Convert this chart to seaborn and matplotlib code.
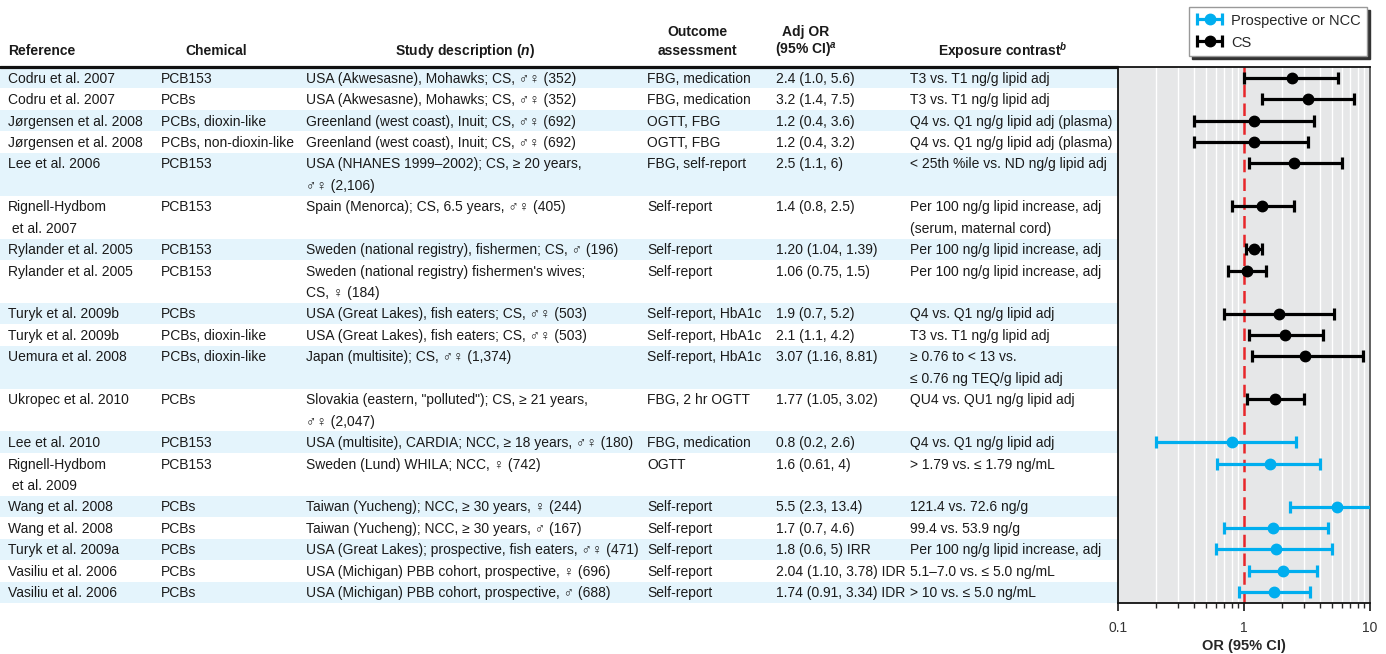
import numpy as np
import pandas as pd
import matplotlib
matplotlib.use("Agg")
import matplotlib.pyplot as plt
import seaborn as sns
from matplotlib.legend_handler import HandlerErrorbar

# Table columns (one entry per study row, "\n" marks a wrapped second line)
references = [
    "Codru et al. 2007", "Codru et al. 2007", "Jørgensen et al. 2008", "Jørgensen et al. 2008",
    "Lee et al. 2006", "Rignell-Hydbom\n et al. 2007", "Rylander et al. 2005", "Rylander et al. 2005",
    "Turyk et al. 2009b", "Turyk et al. 2009b", "Uemura et al. 2008", "Ukropec et al. 2010",
    "Lee et al. 2010", "Rignell-Hydbom\n et al. 2009", "Wang et al. 2008", "Wang et al. 2008",
    "Turyk et al. 2009a", "Vasiliu et al. 2006", "Vasiliu et al. 2006",
]
chemicals = [
    "PCB153", "PCBs", "PCBs, dioxin-like", "PCBs, non-dioxin-like", "PCB153", "PCB153", "PCB153",
    "PCB153", "PCBs", "PCBs, dioxin-like", "PCBs, dioxin-like", "PCBs", "PCB153", "PCB153",
    "PCBs", "PCBs", "PCBs", "PCBs", "PCBs",
]
studies = [
    "USA (Akwesasne), Mohawks; CS, ♂♀ (352)",
    "USA (Akwesasne), Mohawks; CS, ♂♀ (352)",
    "Greenland (west coast), Inuit; CS, ♂♀ (692)",
    "Greenland (west coast), Inuit; CS, ♂♀ (692)",
    "USA (NHANES 1999–2002); CS, ≥ 20 years,\n♂♀ (2,106)",
    "Spain (Menorca); CS, 6.5 years, ♂♀ (405)",
    "Sweden (national registry), fishermen; CS, ♂ (196)",
    "Sweden (national registry) fishermen's wives;\nCS, ♀ (184)",
    "USA (Great Lakes), fish eaters; CS, ♂♀ (503)",
    "USA (Great Lakes), fish eaters; CS, ♂♀ (503)",
    "Japan (multisite); CS, ♂♀ (1,374)",
    "Slovakia (eastern, \"polluted\"); CS, ≥ 21 years,\n♂♀ (2,047)",
    "USA (multisite), CARDIA; NCC, ≥ 18 years, ♂♀ (180)",
    "Sweden (Lund) WHILA; NCC, ♀ (742)",
    "Taiwan (Yucheng); NCC, ≥ 30 years, ♀ (244)",
    "Taiwan (Yucheng); NCC, ≥ 30 years, ♂ (167)",
    "USA (Great Lakes); prospective, fish eaters, ♂♀ (471)",
    "USA (Michigan) PBB cohort, prospective, ♀ (696)",
    "USA (Michigan) PBB cohort, prospective, ♂ (688)",
]
outcomes = [
    "FBG, medication", "FBG, medication", "OGTT, FBG", "OGTT, FBG", "FBG, self-report",
    "Self-report", "Self-report", "Self-report", "Self-report, HbA1c", "Self-report, HbA1c",
    "Self-report, HbA1c", "FBG, 2 hr OGTT", "FBG, medication", "OGTT", "Self-report",
    "Self-report", "Self-report", "Self-report", "Self-report",
]
or_labels = [
    "2.4 (1.0, 5.6)", "3.2 (1.4, 7.5)", "1.2 (0.4, 3.6)", "1.2 (0.4, 3.2)", "2.5 (1.1, 6)",
    "1.4 (0.8, 2.5)", "1.20 (1.04, 1.39)", "1.06 (0.75, 1.5)", "1.9 (0.7, 5.2)", "2.1 (1.1, 4.2)",
    "3.07 (1.16, 8.81)", "1.77 (1.05, 3.02)", "0.8 (0.2, 2.6)", "1.6 (0.61, 4)", "5.5 (2.3, 13.4)",
    "1.7 (0.7, 4.6)", "1.8 (0.6, 5) IRR", "2.04 (1.10, 3.78) IDR", "1.74 (0.91, 3.34) IDR",
]
contrasts = [
    "T3 vs. T1 ng/g lipid adj", "T3 vs. T1 ng/g lipid adj",
    "Q4 vs. Q1 ng/g lipid adj (plasma)", "Q4 vs. Q1 ng/g lipid adj (plasma)",
    "< 25th %ile vs. ND ng/g lipid adj",
    "Per 100 ng/g lipid increase, adj\n(serum, maternal cord)",
    "Per 100 ng/g lipid increase, adj", "Per 100 ng/g lipid increase, adj",
    "Q4 vs. Q1 ng/g lipid adj", "T3 vs. T1 ng/g lipid adj",
    "≥ 0.76 to < 13 vs.\n≤ 0.76 ng TEQ/g lipid adj", "QU4 vs. QU1 ng/g lipid adj",
    "Q4 vs. Q1 ng/g lipid adj", "> 1.79 vs. ≤ 1.79 ng/mL", "121.4 vs. 72.6 ng/g",
    "99.4 vs. 53.9 ng/g", "Per 100 ng/g lipid increase, adj", "5.1–7.0 vs. ≤ 5.0 ng/mL",
    "> 10 vs. ≤ 5.0 ng/mL",
]

# Forest plot values
or_vals = [2.4, 3.2, 1.2, 1.2, 2.5, 1.4, 1.20, 1.06, 1.9, 2.1, 3.07, 1.77, 0.8, 1.6, 5.5, 1.7, 1.8, 2.04, 1.74]
ci_low = [1.0, 1.4, 0.4, 0.4, 1.1, 0.8, 1.04, 0.75, 0.7, 1.1, 1.16, 1.05, 0.2, 0.61, 2.3, 0.7, 0.6, 1.10, 0.91]
ci_high = [5.6, 7.5, 3.6, 3.2, 6, 2.5, 1.39, 1.5, 5.2, 4.2, 8.81, 3.02, 2.6, 4, 13.4, 4.6, 5, 3.78, 3.34]
designs = ["CS"] * 12 + ["Prospective or NCC"] * 7

sns.set_style("white")
plt.rcParams['font.family'] = ['Liberation Sans', 'DejaVu Sans']
plt.rcParams['mathtext.fontset'] = 'custom'
plt.rcParams['mathtext.it'] = 'Liberation Sans:italic:bold'
plt.rcParams['mathtext.rm'] = 'Liberation Sans:bold'

W, H = 1386, 654
fig = plt.figure(figsize=(W / 100, H / 100), dpi=100)

columns = [references, chemicals, studies, outcomes, or_labels, contrasts]
col_x = [8, 161, 306, 647, 776, 910]
n_lines = [max(c[i].count("\n") for c in columns) + 1 for i in range(len(references))]
row_start = np.concatenate([[0], np.cumsum(n_lines)[:-1]])
total = int(sum(n_lines))

df = pd.DataFrame({"or": or_vals, "lo": ci_low, "hi": ci_high, "design": designs, "y": row_start})

pl, pr, pt, pb = 1118, 1370, 67, 603
tab = fig.add_axes([0, 1 - pb / H, pl / W, (pb - pt) / H])
tab.set_xlim(0, pl)
tab.set_ylim(total - 0.5, -0.5)
tab.axis("off")

band = "#e4f4fc"
for i in range(0, len(references), 2):
    tab.axhspan(row_start[i] - 0.5, row_start[i] + n_lines[i] - 0.5, color=band, lw=0, zorder=0)

fs = 10
for col, x in zip(columns, col_x):
    for i, txt in enumerate(col):
        for k, line in enumerate(txt.split("\n")):
            tab.text(x, row_start[i] + k + 0.23, line, fontsize=fs, va="baseline", ha="left",
                     color="#1a1a1a", clip_on=False)

# header
hy1, hy2 = -1.25, -2.13
hkw = dict(fontsize=fs, fontweight="bold", va="center", clip_on=False, color="#1a1a1a")
tab.text(8, hy1, "Reference", ha="left", **hkw)
tab.text(216, hy1, "Chemical", ha="center", **hkw)
tab.text(465, hy1, "Study description ($n$)", ha="center", **hkw)
tab.text(697, hy2, "Outcome", ha="center", **hkw)
tab.text(697, hy1, "assessment", ha="center", **hkw)
tab.text(806, hy2, "Adj OR", ha="center", **hkw)
tab.text(806, hy1, "(95% CI)$^{a}$", ha="center", **hkw)
tab.text(1003, hy1, "Exposure contrast$^{b}$", ha="center", **hkw)
tab.axhline(-0.52, color="#111111", lw=2.3, clip_on=False)

# forest plot
ax = fig.add_axes([pl / W, 1 - pb / H, (pr - pl) / W, (pb - pt) / H])
ax.set_facecolor("#e6e7e8")
ax.set_xscale("log")
ax.set_xlim(0.1, 10)
ax.set_ylim(total - 0.5, -0.5)
for v in [k * 10.0 ** e for e in (-1, 0) for k in range(2, 10)]:
    ax.axvline(v, color="white", lw=1, zorder=0.5)
ax.axvline(1, color="#e8262a", lw=1.8, ls=(0, (5, 2.5)), zorder=1)

palette = {"Prospective or NCC": "#00aeef", "CS": "black"}
handles = []
for d in ["Prospective or NCC", "CS"]:
    sub = df[df["design"] == d]
    h = ax.errorbar(sub["or"], sub["y"], xerr=[sub["or"] - sub["lo"], sub["hi"] - sub["or"]],
                    fmt="o", color=palette[d], ms=7.5, elinewidth=2.3, capsize=4, capthick=2.3,
                    label=d, zorder=3)
    handles.append(h)

ax.set_yticks([])
ax.set_xticks([0.1, 1, 10])
ax.set_xticklabels(["0.1", "1", "10"])
ax.xaxis.set_minor_locator(matplotlib.ticker.LogLocator(base=10, subs=np.arange(2, 10)))
ax.xaxis.set_minor_formatter(matplotlib.ticker.NullFormatter())
ax.tick_params(axis="x", which="major", direction="out", length=6, width=1.3, pad=7,
               labelsize=10, labelcolor="#333333", bottom=True)
ax.tick_params(axis="x", which="minor", direction="out", length=3.5, width=1, bottom=True)
ax.set_xlabel("OR (95% CI)", fontsize=10.5, fontweight="bold", labelpad=3)
for side in ["top", "bottom", "left"]:
    ax.spines[side].set_color("#111111")
    ax.spines[side].set_linewidth(1.3)
ax.spines["right"].set_color("#555555")
ax.spines["right"].set_linewidth(1.3)

fig.legend(handles, ["Prospective or NCC", "CS"], loc="upper right",
           bbox_to_anchor=(1367 / W, 1 - 7 / H), borderaxespad=0, fontsize=10.5, frameon=True,
           fancybox=False, shadow={"color": "#333333", "alpha": 1}, edgecolor="#999999",
           framealpha=1, handlelength=1.9, handletextpad=0.5, borderpad=0.45, labelspacing=0.55,
           handler_map={type(handles[0]): HandlerErrorbar(xerr_size=0.85)})

fig.savefig("out.png", dpi=100)
